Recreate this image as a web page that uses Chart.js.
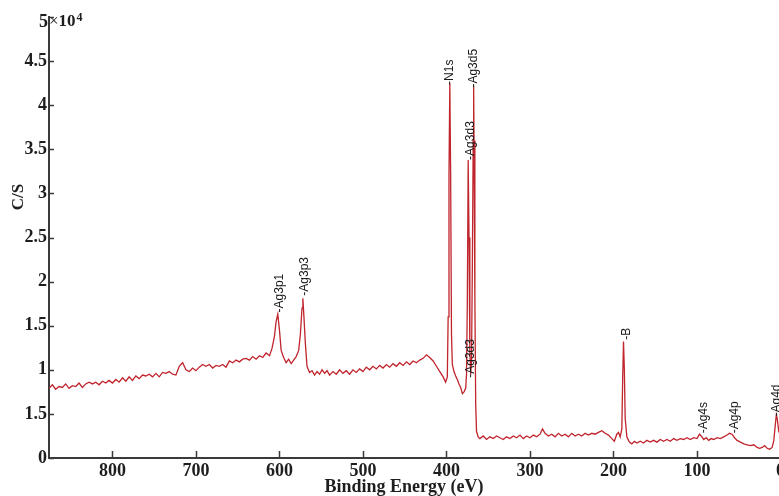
<!DOCTYPE html>
<html><head><meta charset="utf-8">
<script src="https://cdn.jsdelivr.net/npm/chart.js@4.4.1/dist/chart.umd.min.js"></script>
<style>
html,body{margin:0;padding:0;overflow:hidden;background:#fff;width:779px;height:496px}
#wrap{position:relative;width:788px;height:496px}
</style></head>
<body><div id="wrap"><canvas id="c"></canvas></div>
<script>
// ---- data (intensity in units of 10^4 C/S) ----
const energyA = [876,872,868,864,860,856,852,848,844,840,836,832,828,824,820,816,812,808,804,800,796,792,788,784,780,776,772,768,764,760,756,752,748,744,740,736,732,728,724,720,716,712,708,704,700,696,692,688,684,680,676,672,668,664,660,656,652,648,644,640,636,632,628,624,620,616];
const countA  = [0.79,0.83,0.78,0.81,0.80,0.84,0.79,0.82,0.81,0.85, 0.80,0.84,0.86,0.84,0.86,0.83,0.87,0.85,0.88,0.85, 0.89,0.86,0.91,0.87,0.92,0.88,0.93,0.90,0.94,0.93, 0.95,0.92,0.96,0.92,0.97,0.96,0.98,0.95,0.94,1.04, 1.08,1.00,0.98,1.02,0.99,1.03,1.06,1.04,1.06,1.02, 1.05,1.04,1.06,1.03,1.10,1.08,1.11,1.09,1.12,1.13, 1.11,1.15,1.12,1.16,1.14,1.19];
const energyB = [612,609,606,604,602,600,598,595,592,589,586,583,580,577,575,573,572,571,569,567,564,561,558,555,552,549,546,543,540];
const countB  = [1.16,1.24,1.38,1.55,1.63,1.45,1.22,1.14,1.08,1.12,1.07,1.11,1.15,1.22,1.40,1.70,1.81,1.65,1.30,1.04,0.97,0.99,0.94,0.98,0.95,1.00,0.96,0.99,0.94];
const energyC = [536,532,528,524,520,516,512,508,504,500,496,492,488,484,480,476,472,468,464,460,456,452,448,444,440,436,432,428,424,420,416,412,408,404];
const countC  = [0.98,0.95,1.00,0.96,0.99,0.95,1.00,0.97,1.01,0.98,1.03,1.00,1.04,1.01,1.05,1.02,1.06,1.03,1.07,1.04,1.08,1.05,1.09,1.06,1.10,1.08,1.11,1.13,1.17,1.14,1.10,1.04,0.98,0.92];
const energyD = [401,399,398,397,396,395,394,393,391,389,387,385,383,381,379,377,376,375,374,373,372,371,370,369,368,367.5,367,366,365,364,362];
const countD  = [0.86,0.92,1.60,3.20,4.25,3.20,1.40,1.06,0.98,0.93,0.89,0.84,0.80,0.73,0.75,0.79,0.95,1.80,3.38,2.50,1.20,0.95,1.10,2.20,3.60,4.22,3.60,1.80,0.60,0.30,0.24];
const energyE = [360,356,352,348,344,340,336,332,328,324,320,316,312,308,304,300,296,292,288,285,282,278,274,270,266,262,258,254,250,246,242,238,234,230,226,222,218,214,210,206,202];
const countE  = [0.22,0.25,0.21,0.24,0.22,0.25,0.23,0.21,0.24,0.22,0.25,0.23,0.26,0.22,0.25,0.23,0.26,0.24,0.27,0.33,0.28,0.25,0.27,0.24,0.28,0.25,0.27,0.24,0.28,0.25,0.27,0.25,0.28,0.26,0.28,0.27,0.29,0.31,0.28,0.26,0.22];
const energyF = [199,196,194,192,190,189,188,187,186,184,181,178,175,172,168,164,160,156,152,148,144,140,136,132,128,124,120,116,112,108,104,100,97,95,92,89,86,83,80,76,72,68,64,61,58,55,52,48,44,40,36,32,28,25,22,19,16,13,10,8,6,5,4,2,0];
const countF  = [0.19,0.27,0.29,0.24,0.33,0.90,1.32,1.00,0.45,0.24,0.18,0.16,0.19,0.17,0.19,0.17,0.20,0.18,0.20,0.18,0.21,0.19,0.21,0.19,0.22,0.20,0.22,0.21,0.23,0.21,0.23,0.22,0.27,0.25,0.21,0.23,0.20,0.22,0.21,0.23,0.22,0.24,0.26,0.28,0.27,0.23,0.20,0.18,0.16,0.15,0.14,0.15,0.12,0.11,0.12,0.14,0.11,0.10,0.12,0.20,0.40,0.49,0.45,0.30,0.26];

const xTickValues = [800,700,600,500,400,300,200,100,0];
const yTickValues = [0,0.5,1,1.5,2,2.5,3,3.5,4,4.5,5];
const yTickLabels = ['0','1.5','1','1.5','2','2.5','3','3.5','4','4.5','5'];

const peakNames   = ['-Ag3p1','-Ag3p3','-N1s','-Ag3d5','-Ag3d3','-Ag3d3','-B','-Ag4s','-Ag4p','-Ag4d'];
const peakLabelE  = [600,569.5,396,367,371.3,371.3,184.5,92,55,4];
const peakLabelY  = [1.65,1.84,4.23,4.20,3.38,0.91,1.34,0.28,0.28,0.47];

// ---- build points ----
const energies = [].concat(energyA,energyB,energyC,energyD,energyE,energyF);
const counts   = [].concat(countA,countB,countC,countD,countE,countF);
if (energies.length !== counts.length) console.error('length mismatch', energies.length, counts.length);
const points = energies.map((e,i)=>({x:e, y:counts[i]}));

const serif = '"Liberation Serif", "Times New Roman", serif';
const sans = '"Liberation Sans", Arial, sans-serif';
const axisColor = '#3a3a3a';
const textColor = '#1e1e1e';

const decor = {
  id:'decor',
  afterDraw(chart){
    const {ctx, chartArea:a, scales:{x,y}} = chart;
    ctx.save();
    ctx.strokeStyle = axisColor; ctx.lineWidth = 1.5;
    yTickValues.forEach(v=>{
      const py = Math.round(y.getPixelForValue(v))+0.5;
      ctx.beginPath(); ctx.moveTo(a.left, py); ctx.lineTo(a.left+5, py); ctx.stroke();
    });
    xTickValues.forEach(v=>{
      const px = Math.round(x.getPixelForValue(v))+0.5;
      ctx.beginPath(); ctx.moveTo(px, a.bottom); ctx.lineTo(px, a.bottom-7); ctx.stroke();
    });
    // top tick label with exponent
    const topV = yTickValues[yTickValues.length-1];
    const py5 = y.getPixelForValue(topV) + 5;
    ctx.fillStyle = textColor;
    ctx.textBaseline = 'middle';
    ctx.font = 'bold 18px ' + serif; ctx.textAlign = 'right';
    ctx.fillText(yTickLabels[yTickLabels.length-1], a.left-1, py5);
    ctx.textAlign = 'left'; ctx.font = '17px ' + serif;
    ctx.fillText('×', a.left, py5);
    let w = ctx.measureText('×').width;
    ctx.font = 'bold 17px ' + serif;
    ctx.fillText('10', a.left + w, py5);
    w += ctx.measureText('10').width;
    ctx.font = 'bold 12px ' + serif;
    ctx.fillText('4', a.left + w + 1, py5 - 4);
    // axis titles
    ctx.font = 'bold 18px ' + serif; ctx.textAlign = 'center'; ctx.textBaseline = 'alphabetic';
    ctx.fillText('Binding Energy (eV)', 404, 492);
    ctx.save(); ctx.translate(23, 197); ctx.rotate(-Math.PI/2);
    ctx.font = 'bold 17px ' + serif; ctx.textBaseline = 'alphabetic';
    ctx.fillText('C/S', 0, 0); ctx.restore();
    // peak labels
    ctx.font = '12px ' + sans; ctx.fillStyle = '#1a1a1a';
    peakNames.forEach((n,i)=>{
      const px = x.getPixelForValue(peakLabelE[i]);
      const py = y.getPixelForValue(peakLabelY[i]);
      ctx.save(); ctx.translate(px, py); ctx.rotate(-Math.PI/2);
      ctx.textAlign = 'left'; ctx.textBaseline = 'middle';
      ctx.fillText(n, 0, 0); ctx.restore();
    });
    ctx.restore();
  }
};

new Chart(document.getElementById('c'), {
  type:'line',
  data:{datasets:[{data:points, borderColor:'#c0242c', borderWidth:1.3, pointRadius:0, tension:0, fill:false}]},
  options:{
    responsive:true, maintainAspectRatio:false, animation:false,
    layout:{padding:{top:17, right:0, left:0, bottom:0}},
    plugins:{legend:{display:false}, tooltip:{enabled:false}},
    scales:{
      x:{type:'linear', reverse:true, min:0, max:876,
        afterBuildTicks:s=>{ s.ticks = xTickValues.map(v=>({value:v})); },
        afterFit:s=>{ s.height = 38; },
        grid:{display:true, drawOnChartArea:false, drawTicks:false},
        border:{display:true, color:axisColor, width:2},
        ticks:{padding:3, maxRotation:0, autoSkip:false, color:textColor,
          font:{family:serif, weight:'bold', size:18}}
      },
      y:{type:'linear', min:0, max:5,
        afterBuildTicks:s=>{ s.ticks = yTickValues.map(v=>({value:v})); },
        afterFit:s=>{ s.width = 49; },
        grid:{display:true, drawOnChartArea:false, drawTicks:false},
        border:{display:true, color:axisColor, width:2},
        ticks:{padding:2, color:textColor, font:{family:serif, weight:'bold', size:18},
          callback:(v,i)=> i===yTickLabels.length-1 ? '' : yTickLabels[i]}
      }
    }
  },
  plugins:[decor]
});
</script></body></html>
